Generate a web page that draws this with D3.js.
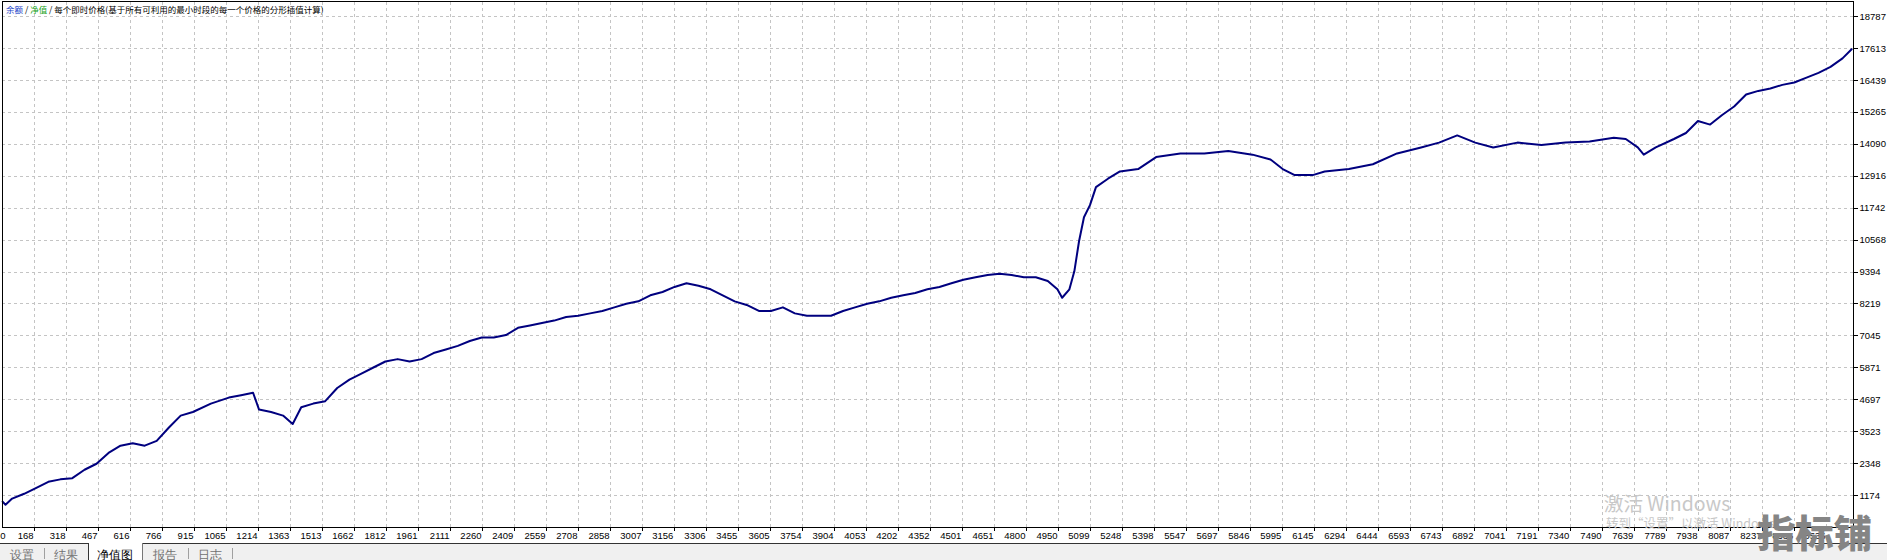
<!DOCTYPE html>
<html><head><meta charset="utf-8">
<script src="https://cdn.jsdelivr.net/npm/d3@7"></script>
<style>
html,body{margin:0;padding:0;background:#fff;}
svg{display:block;}
text{font-family:"Liberation Sans",Arial,sans-serif;}
</style></head>
<body>
<svg id="c" width="1887" height="560"></svg>
<script>
// ---------- data ----------
const legendParts = ["余额", " / ", "净值", " / 每个即时价格(基于所有可利用的最小时段的每一个价格的分形插值计算)"];
const yTicks = [1174, 2348, 3523, 4697, 5871, 7045, 8219, 9394, 10568, 11742, 12916, 14090, 15265, 16439, 17613, 18787];
const xTicks = [0,168,318,467,616,766,915,1065,1214,1363,1513,1662,1812,1961,2111,2260,2409,2559,2708,2858,3007,3156,3306,3455,3605,3754,3904,4053,4202,4352,4501,4651,4800,4950,5099,5248,5398,5547,5697,5846,5995,6145,6294,6444,6593,6743,6892,7041,7191,7340,7490,7639,7789,7938,8087,8237,8386,8536];
const tabs = ["设置","结果","净值图","报告","日志"];
const tradeNo = [19,35,66,122,179,235,291,347,404,460,516,572,629,685,741,797,853,910,994,1078,1135,1191,1219,1275,1331,1376,1416,1472,1528,1584,1641,1697,1753,1809,1866,1922,1978,2034,2091,2147,2203,2259,2315,2372,2428,2484,2540,2597,2653,2709,2765,2822,2878,2934,2990,3046,3103,3159,3215,3271,3328,3384,3440,3496,3553,3609,3665,3721,3777,3834,3890,3946,4002,4059,4115,4171,4227,4283,4340,4396,4452,4508,4565,4621,4677,4733,4790,4846,4902,4947,4969,5003,5026,5048,5071,5099,5127,5183,5239,5324,5408,5521,5633,5745,5858,5942,5999,6055,6139,6195,6308,6420,6533,6645,6729,6814,6898,6982,7095,7207,7320,7432,7545,7601,7657,7685,7741,7826,7882,7938,7995,8051,8107,8163,8220,8276,8332,8388,8445,8501,8557,8613,8658];
const equity = [950,820,1044,1221,1442,1663,1752,1796,2105,2326,2725,2990,3079,2990,3167,3649,4096,4228,4538,4759,4847,4936,4317,4228,4096,3786,4405,4538,4626,5113,5422,5643,5865,6086,6174,6086,6174,6396,6528,6661,6838,6971,6971,7059,7325,7413,7502,7590,7723,7767,7856,7944,8077,8209,8298,8519,8642,8828,8961,8873,8740,8519,8298,8165,7944,7944,8077,7856,7767,7767,7767,7944,8077,8209,8298,8430,8519,8607,8740,8828,8961,9094,9182,9270,9315,9270,9182,9182,9049,8740,8430,8740,9403,10508,11392,11835,12498,12808,13074,13162,13604,13737,13737,13826,13693,13516,13162,12941,12941,13074,13162,13339,13737,13958,14135,14400,14135,13958,14135,14047,14135,14180,14312,14268,13958,13693,13958,14268,14489,14931,14798,15152,15462,15904,16037,16126,16258,16347,16524,16701,16922,17232,17586];

// ---------- layout ----------
const L = 2, R = 1853, T = 2, B = 527;
const svg = d3.select("#c");
const x = d3.scaleLinear().domain([18.6, 8536]).range([L, 1826]);
const y = d3.scaleLinear().domain([0, 19306]).range([B, T]);
const xPos = v => v === 0 ? L : x(v);

svg.append("rect").attr("x",0).attr("y",544).attr("width",1887).attr("height",16).attr("fill","#f0f0f0");

const grid = svg.append("g").attr("stroke","#c4c4c4").attr("stroke-dasharray","3,3").attr("shape-rendering","crispEdges");
grid.selectAll("line.h").data(yTicks).join("line")
  .attr("x1",L).attr("x2",R).attr("y1",d=>Math.round(y(d))+0.5).attr("y2",d=>Math.round(y(d))+0.5);
grid.selectAll("line.v").data(xTicks.slice(1)).join("line")
  .attr("y1",T).attr("y2",B).attr("x1",d=>Math.round(xPos(d))+0.5).attr("x2",d=>Math.round(xPos(d))+0.5);

const lg = svg.append("text").attr("x",6).attr("y",12.5).attr("font-size",8.5)
  .style("font-family","'Noto Sans CJK SC',sans-serif");
const legColors = ["#1a3fc8","#000","#1aa31a","#000"];
legendParts.forEach((t,i)=>lg.append("tspan").attr("fill",legColors[i]).text(t));

const line = d3.line().x(d=>x(d[0])).y(d=>y(d[1]));
svg.append("path").datum(tradeNo.map((t,i)=>[t,equity[i]]))
  .attr("fill","none").attr("stroke","#00007f").attr("stroke-width",2).attr("stroke-linejoin","round")
  .attr("d",line);

const frame = svg.append("g").attr("stroke","#000").attr("stroke-width",1).attr("shape-rendering","crispEdges");
frame.append("line").attr("x1",L+0.5).attr("x2",L+0.5).attr("y1",T).attr("y2",B);
frame.append("line").attr("x1",L).attr("x2",R).attr("y1",T-0.5).attr("y2",T-0.5);
frame.append("line").attr("x1",R+0.5).attr("x2",R+0.5).attr("y1",T-1).attr("y2",544);

const yAxis = d3.axisRight(y).tickValues(yTicks).tickSize(4).tickPadding(2).tickFormat(d=>d);
const ya = svg.append("g").attr("transform",`translate(${R+0.5},0)`).call(yAxis);
ya.select(".domain").remove();
ya.selectAll("line").attr("stroke","#000").attr("shape-rendering","crispEdges");
ya.selectAll("text").attr("font-size",9.5).attr("fill","#000").style("font-family","'Liberation Sans',Arial,sans-serif");

const xAxis = d3.axisBottom(x).tickValues(xTicks.slice(1)).tickSize(3).tickFormat(d=>d);
const xa = svg.append("g").attr("transform",`translate(0,${B+0.5})`).call(xAxis);
xa.select(".domain").attr("d",`M${L},0H${R+1}`).attr("stroke","#000").attr("shape-rendering","crispEdges");
xa.selectAll(".tick line").attr("stroke","#000").attr("shape-rendering","crispEdges");
xa.selectAll(".tick text").attr("text-anchor","end").attr("x",-1).attr("y",5).attr("dy","0.71em")
  .attr("font-size",9.5).attr("fill","#000").style("font-family","'Liberation Sans',Arial,sans-serif");
xa.append("text").attr("x",3).attr("y",5).attr("dy","0.71em").attr("font-size",9.5).attr("fill","#000")
  .style("font-family","'Liberation Sans',Arial,sans-serif").text(xTicks[0]);

svg.append("line").attr("x1",0).attr("x2",88).attr("y1",543.5).attr("y2",543.5).attr("stroke","#333");
svg.append("line").attr("x1",143).attr("x2",1887).attr("y1",543.5).attr("y2",543.5).attr("stroke","#333");
svg.append("rect").attr("x",88).attr("y",544).attr("width",55).attr("height",16).attr("fill","#fff");
svg.append("line").attr("x1",88.5).attr("x2",88.5).attr("y1",543).attr("y2",560).attr("stroke","#333");
svg.append("line").attr("x1",142.5).attr("x2",142.5).attr("y1",543).attr("y2",560).attr("stroke","#777");
const tabX = [10,54,97,153,198];
const tg = svg.append("g").style("font-family","'Noto Sans CJK SC',sans-serif").attr("font-size",12);
tabs.forEach((t,i)=>{
  tg.append("text").attr("x",tabX[i]).attr("y",558.5).attr("fill", i===2?"#000":"#707070").text(t);
});
[44,188,232].forEach(sx=>svg.append("line").attr("x1",sx+0.5).attr("x2",sx+0.5).attr("y1",548).attr("y2",559).attr("stroke","#a0a0a0"));

svg.append("text").attr("x",1604).attr("y",511).attr("font-size",19.5).attr("fill","#c8c8c8")
  .style("font-family","'Noto Sans CJK SC',sans-serif").text("激活 Windows");
svg.append("text").attr("x",1606).attr("y",528).attr("font-size",12.5).attr("fill","#c8c8c8")
  .style("font-family","'Noto Sans CJK SC',sans-serif").text("转到“设置”以激活 Windows。");
svg.append("text").attr("x",1757).attr("y",547).attr("font-size",38).attr("font-weight","900")
  .attr("fill","#858585").attr("textLength",115).attr("lengthAdjust","spacingAndGlyphs")
  .style("font-family","'Noto Sans CJK SC',sans-serif").text("指标铺");
</script>
</body></html>
